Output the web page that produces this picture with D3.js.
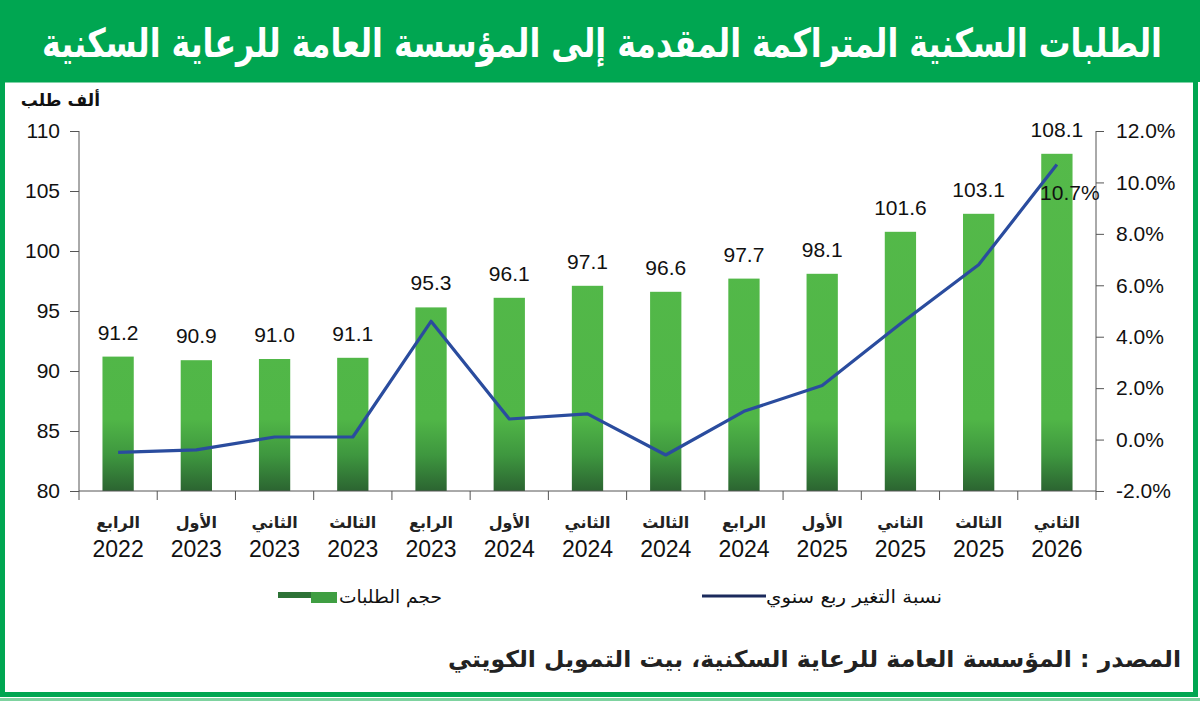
<!DOCTYPE html>
<html><head><meta charset="utf-8">
<script src="https://cdn.jsdelivr.net/npm/d3@7/dist/d3.min.js"></script>
<style>body{margin:0;background:#fff}svg{display:block}</style>
</head><body>
<svg id="c" width="1200" height="702"></svg>
<script>
const quarters = ["الرابع","الأول","الثاني","الثالث","الرابع","الأول","الثاني","الثالث","الرابع","الأول","الثاني","الثالث","الثاني"];
const years = ["2022","2023","2023","2023","2023","2024","2024","2024","2024","2025","2025","2025","2026"];
const requests = [91.2,90.9,91.0,91.1,95.3,96.1,97.1,96.6,97.7,98.1,101.6,103.1,108.1];
const changePct = [-0.5,-0.4,0.1,0.1,4.6,0.8,1.0,-0.6,1.1,2.1,4.5,6.8,10.7];
const leftTicks = [80,85,90,95,100,105,110];
const rightTicks = [-2,0,2,4,6,8,10,12];

const svg = d3.select("#c");
const AR = "'DejaVu Sans', sans-serif";
const NUM = "'Liberation Sans', Arial, sans-serif";
const green = "#00a651";

// title band
svg.append("rect").attr("x",0).attr("y",0).attr("width",1200).attr("height",82).attr("fill",green);
const titleG = svg.append("g");
const title = titleG.append("text").attr("x",0).attr("y",0).attr("text-anchor","middle")
  .attr("font-family",AR).attr("font-weight","bold").attr("font-size",40)
  .attr("fill","#fff")
  .text("الطلبات السكنية المتراكمة المقدمة إلى المؤسسة العامة للرعاية السكنية");
const tw = title.node().getComputedTextLength();
const targetW = 1120;
const fs = 40 * Math.min(1, targetW / tw);
title.attr("font-size", fs);
const tw2 = title.node().getComputedTextLength();
titleG.attr("transform",`translate(602,57) scale(${targetW/tw2},${40/fs})`);

// frame
svg.append("rect").attr("x",2.5).attr("y",80).attr("width",1193).attr("height",614.5)
  .attr("fill","none").attr("stroke",green).attr("stroke-width",5);
svg.append("line").attr("x1",0).attr("x2",1200).attr("y1",699.5).attr("y2",699.5).attr("stroke","#7fd3a0").attr("stroke-width",3);

const x0 = 79, x1 = 1096, yTop = 131, yBot = 491;
const x = d3.scaleBand().domain(d3.range(requests.length)).range([x0,x1]).paddingInner(0.6).paddingOuter(0.3);
const yL = d3.scaleLinear().domain([80,110]).range([yBot,yTop]);
const yR = d3.scaleLinear().domain([-2,12]).range([yBot,yTop]);

// gradient
const defs = svg.append("defs");
const g = defs.append("linearGradient").attr("id","bg").attr("gradientUnits","userSpaceOnUse")
  .attr("x1",0).attr("x2",0).attr("y1",yBot).attr("y2",yTop);
g.append("stop").attr("offset","0").attr("stop-color","#2b6431");
g.append("stop").attr("offset","0.1").attr("stop-color","#3e973f");
g.append("stop").attr("offset","0.2").attr("stop-color","#50b647");
g.append("stop").attr("offset","1").attr("stop-color","#55ba4a");

// bars
svg.append("g").selectAll("rect").data(requests).join("rect")
  .attr("x",(d,i)=>x(i)).attr("width",x.bandwidth())
  .attr("y",d=>yL(d)).attr("height",d=>yBot-yL(d)).attr("fill","url(#bg)");

// bar labels
svg.append("g").selectAll("text").data(requests).join("text")
  .attr("x",(d,i)=>x(i)+x.bandwidth()/2).attr("y",d=>yL(d)-17)
  .attr("text-anchor","middle").attr("font-family",NUM).attr("font-size",21).attr("fill","#111")
  .text(d=>d.toFixed(1));

// left axis
const axL = svg.append("g").attr("transform",`translate(${x0},0)`)
  .call(d3.axisLeft(yL).tickValues(leftTicks).tickSize(9).tickPadding(10).tickFormat(d3.format("d")));
axL.selectAll("text").attr("font-family",NUM).attr("font-size",21).attr("fill","#111");
axL.selectAll("line,path").attr("stroke","#555");
axL.select(".domain").attr("d",`M0,${yTop}V${yBot}`);

// right axis
const axR = svg.append("g").attr("transform",`translate(${x1},0)`)
  .call(d3.axisRight(yR).tickValues(rightTicks).tickSize(8).tickPadding(12).tickFormat(d=>d.toFixed(1)+"%"));
axR.selectAll("text").attr("font-family",NUM).attr("font-size",21).attr("fill","#111");
axR.selectAll("line,path").attr("stroke","#555");
axR.select(".domain").attr("d",`M0,${yTop}V${yBot}`);

// bottom axis
const bx = svg.append("g");
bx.append("line").attr("x1",x0).attr("x2",x1).attr("y1",yBot).attr("y2",yBot).attr("stroke","#555");
bx.selectAll(".tk").data(d3.range(requests.length+1)).join("line")
  .attr("x1",i=>x0+i*(x1-x0)/requests.length).attr("x2",i=>x0+i*(x1-x0)/requests.length)
  .attr("y1",yBot).attr("y2",yBot+9).attr("stroke","#555");
bx.selectAll(".q").data(quarters).join("text")
  .attr("x",(d,i)=>x(i)+x.bandwidth()/2).attr("y",528).attr("text-anchor","middle")
  .attr("font-family",AR).attr("font-weight","bold").attr("font-size",16).attr("fill","#222")
  .text(d=>d);
bx.selectAll(".y").data(years).join("text")
  .attr("x",(d,i)=>x(i)+x.bandwidth()/2).attr("y",557).attr("text-anchor","middle")
  .attr("font-family",NUM).attr("font-size",23).attr("fill","#111").text(d=>d);

// line
const line = d3.line().x((d,i)=>x(i)+x.bandwidth()/2).y(d=>yR(d));
svg.append("path").datum(changePct).attr("d",line).attr("fill","none")
  .attr("stroke","#2a4c9e").attr("stroke-width",3.2).attr("stroke-linejoin","round");
const last = changePct.length-1;
svg.append("text").attr("x",x(last)+x.bandwidth()/2+13).attr("y",yR(changePct[last])+36)
  .attr("text-anchor","middle").attr("font-family",NUM).attr("font-size",21).attr("fill","#111")
  .text(changePct[last].toFixed(1)+"%");

// y unit
svg.append("text").attr("x",100).attr("y",106).attr("text-anchor","end")
  .attr("font-family",AR).attr("font-weight","bold").attr("font-size",17).attr("fill","#111").text("ألف طلب");

// legend
svg.append("rect").attr("x",278).attr("y",592).attr("width",34).attr("height",6).attr("fill","#2d7236");
svg.append("rect").attr("x",311).attr("y",592).attr("width",26).attr("height",11).attr("fill","#3f9e42");
svg.append("text").attr("x",442).attr("y",603).attr("text-anchor","end")
  .attr("font-family",AR).attr("font-size",18).attr("fill","#111")
  .attr("textLength",103).attr("lengthAdjust","spacingAndGlyphs").text("حجم الطلبات");
svg.append("line").attr("x1",702).attr("x2",766).attr("y1",596).attr("y2",596).attr("stroke","#1b2a5c").attr("stroke-width",3);
svg.append("text").attr("x",942).attr("y",603).attr("text-anchor","end")
  .attr("font-family",AR).attr("font-size",18).attr("fill","#111")
  .attr("textLength",176).attr("lengthAdjust","spacingAndGlyphs").text("نسبة التغير ربع سنوي");

// source
svg.append("text").attr("x",1181).attr("y",667).attr("text-anchor","end")
  .attr("font-family",AR).attr("font-weight","bold").attr("font-size",23).attr("fill","#222")
  .attr("textLength",733).attr("lengthAdjust","spacingAndGlyphs")
  .text("المصدر : المؤسسة العامة للرعاية السكنية، بيت التمويل الكويتي");
</script>
</body></html>
